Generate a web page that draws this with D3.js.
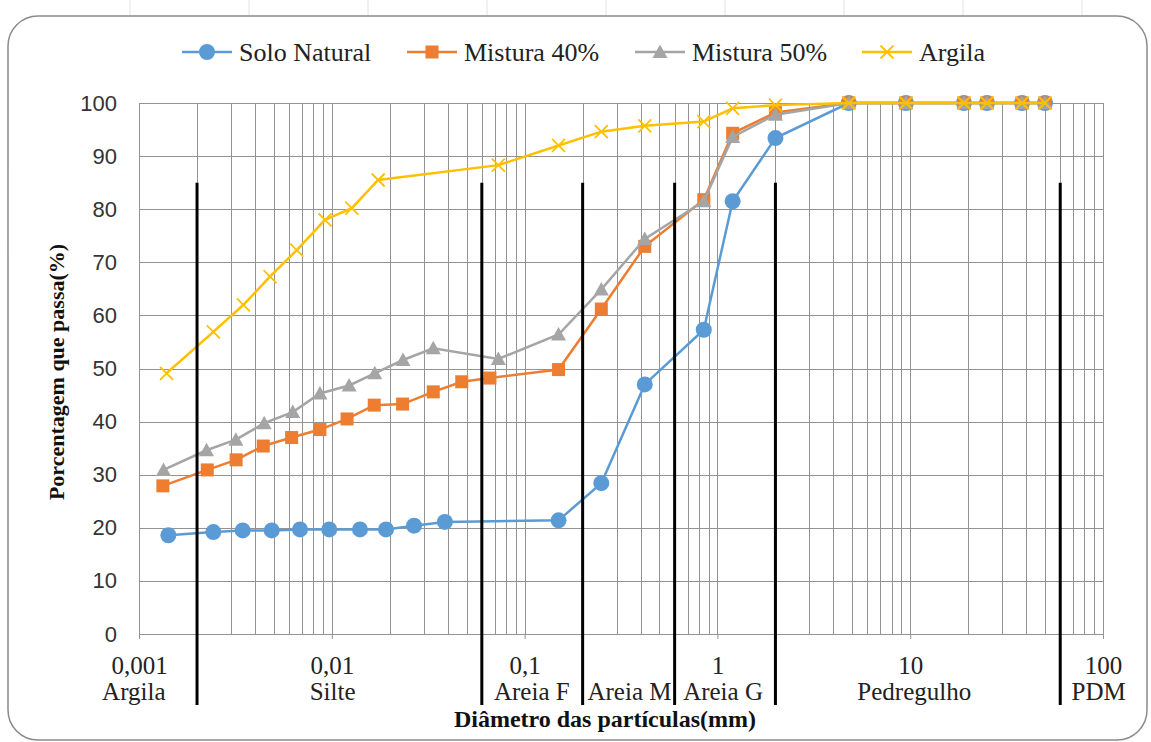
<!DOCTYPE html>
<html><head><meta charset="utf-8">
<script src="https://cdn.jsdelivr.net/npm/d3@7/dist/d3.min.js"></script>
<style>body{margin:0;background:#fff}svg{display:block}</style>
</head><body><svg id="c" width="1151" height="742"></svg>
<script>
// ---- data ----
const seriesNames = ["Solo Natural", "Mistura 40%", "Mistura 50%", "Argila"];
const soloX = [0.00142,0.00243,0.00345,0.00488,0.00684,0.0097,0.0140,0.0191,0.0267,0.0386,0.15,0.25,0.42,0.85,1.2,2.0,4.8,9.5,19,25,38,50];
const soloY = [18.6,19.2,19.5,19.5,19.7,19.7,19.7,19.7,20.4,21.1,21.4,28.4,47.0,57.3,81.5,93.4,100,100,100,100,100,100];
const m40X = [0.00133,0.00226,0.00319,0.00441,0.00619,0.00868,0.0120,0.0166,0.0233,0.0336,0.0472,0.0661,0.15,0.25,0.42,0.85,1.2,2.0,4.8,9.5,19,25,38,50];
const m40Y = [27.9,30.9,32.8,35.4,37.0,38.5,40.5,43.1,43.3,45.6,47.5,48.2,49.8,61.2,73.0,81.8,94.3,98.2,100,100,100,100,100,100];
const m50X = [0.00134,0.00224,0.00318,0.00446,0.00627,0.00868,0.0123,0.0167,0.0234,0.0336,0.0731,0.15,0.25,0.42,0.85,1.2,2.0,4.8,9.5,19,25,38,50];
const m50Y = [30.9,34.6,36.6,39.7,41.8,45.3,46.8,49.1,51.6,53.8,51.8,56.4,64.9,74.4,81.5,93.6,97.8,100,100,100,100,100,100];
const argX = [0.00139,0.00243,0.00348,0.00478,0.00658,0.00922,0.0127,0.0174,0.0731,0.15,0.25,0.42,0.85,1.2,2.0,4.8,9.5,19,25,38,50];
const argY = [49.1,56.9,62.0,67.3,72.3,78.0,80.2,85.5,88.3,92.0,94.6,95.7,96.5,99.0,99.6,100,100,100,100,100,100];
const xTickValues = [0.001,0.01,0.1,1,10,100];
const xTickLabels = ["0,001","0,01","0,1","1","10","100"];
const yTickValues = [0,10,20,30,40,50,60,70,80,90,100];
const zoneBounds = [0.002,0.06,0.2,0.6,2,60];
const zoneTop = 85;
const zoneNames = ["Argila","Silte","Areia F","Areia M","Areia G","Pedregulho","PDM"];
const zoneLabelAt = [0.00094,0.0101,0.109,0.35,1.07,10.5,95];

// ---- layout ----
const svg = d3.select("#c");
const colors = ["#5B9BD5","#ED7D31","#A5A5A5","#FFC000"];
const x = d3.scaleLog().domain([0.001,100]).range([139,1103]);
const y = d3.scaleLinear().domain([0,100]).range([634,103]);
const SERIF = "'Liberation Serif','Times New Roman',serif";
const SANS = "'Liberation Sans',Arial,sans-serif";

// spreadsheet cell lines above the chart
svg.append("g").selectAll("line").data(d3.range(9)).join("line")
  .attr("x1",(d)=>130+d*119).attr("x2",(d)=>130+d*119).attr("y1",0).attr("y2",16)
  .attr("stroke","#e2e2e2").attr("stroke-width",1);
// chart border
svg.append("rect").attr("x",8).attr("y",16).attr("width",1139).attr("height",724)
  .attr("rx",30).attr("fill","#fff").attr("stroke","#8a8a8a").attr("stroke-width",1.5);

// gridlines
const minor = [];
for (let e=-3;e<2;e++) for (let m=1;m<10;m++) minor.push(m*Math.pow(10,e));
minor.push(100);
const grid = svg.append("g");
grid.selectAll(".v").data(minor).join("line")
  .attr("x1",d=>Math.round(x(d))+0.5).attr("x2",d=>Math.round(x(d))+0.5)
  .attr("y1",y(100)).attr("y2",y(0)).attr("stroke","#939393").attr("stroke-width",1);
grid.selectAll(".h").data(yTickValues).join("line")
  .attr("x1",x(0.001)).attr("x2",x(100))
  .attr("y1",d=>Math.round(y(d))+0.5).attr("y2",d=>Math.round(y(d))+0.5)
  .attr("stroke","#939393").attr("stroke-width",1);

// axes
const yAxis = svg.append("g").attr("transform",`translate(117,0)`)
  .call(d3.axisLeft(y).tickValues(yTickValues).tickSize(0).tickPadding(0));
yAxis.select(".domain").remove();
yAxis.selectAll("text").attr("font-family",SANS).attr("font-size",22).attr("fill","#333");

const xAxis = svg.append("g").attr("transform",`translate(0,${y(0)})`)
  .call(d3.axisBottom(x).tickValues(xTickValues).tickFormat((d,i)=>xTickLabels[i]).tickSize(5).tickPadding(17));
xAxis.select(".domain").attr("stroke","#939393");
xAxis.selectAll("line").attr("stroke","#939393");
xAxis.selectAll("text").attr("font-family",SERIF).attr("font-size",25).attr("fill","#222");

// series
const sets = [[soloX,soloY],[m40X,m40Y],[m50X,m50Y],[argX,argY]];
const line = d3.line().x(d=>x(d[0])).y(d=>y(d[1]));
function marker(g,i,cx,cy){
  const c = colors[i];
  if(i===0) g.append("circle").attr("cx",cx).attr("cy",cy).attr("r",8).attr("fill",c);
  else if(i===1) g.append("rect").attr("x",cx-6.5).attr("y",cy-6.5).attr("width",13).attr("height",13).attr("fill",c);
  else if(i===2) g.append("path").attr("d",`M${cx},${cy-7.5}L${cx+7.5},${cy+6}L${cx-7.5},${cy+6}Z`).attr("fill",c);
  else g.append("path").attr("d",`M${cx-6.5},${cy-6.5}L${cx+6.5},${cy+6.5}M${cx-6.5},${cy+6.5}L${cx+6.5},${cy-6.5}`).attr("stroke",c).attr("stroke-width",1.8);
}
sets.forEach(([xs,ys],i)=>{
  const pts = xs.map((v,k)=>[v,ys[k]]);
  const g = svg.append("g");
  g.append("path").datum(pts).attr("d",line).attr("fill","none").attr("stroke",colors[i]).attr("stroke-width",2.5);
  pts.forEach(p=>marker(g,i,x(p[0]),y(p[1])));
});

// zone boundary lines
svg.append("g").selectAll("line").data(zoneBounds).join("line")
  .attr("x1",d=>x(d)).attr("x2",d=>x(d)).attr("y1",y(zoneTop)).attr("y2",705)
  .attr("stroke","#000").attr("stroke-width",3);
// zone labels
svg.append("g").selectAll("text").data(zoneNames).join("text")
  .attr("x",(d,i)=>x(zoneLabelAt[i])).attr("y",700).attr("text-anchor","middle")
  .attr("font-family",SERIF).attr("font-size",25).attr("fill","#222").text(d=>d);

// axis titles
svg.append("text").attr("x",605).attr("y",727).attr("text-anchor","middle")
  .attr("font-family",SERIF).attr("font-weight","bold").attr("font-size",24).attr("fill","#111")
  .text("Diâmetro das partículas(mm)");
svg.append("text").attr("transform","translate(64,372) rotate(-90)").attr("text-anchor","middle")
  .attr("font-family",SERIF).attr("font-weight","bold").attr("font-size",22).attr("fill","#111")
  .text("Porcentagem que passa(%)");

// legend
const legX = [207,432,660,887];
const leg = svg.append("g");
seriesNames.forEach((n,i)=>{
  const cx = legX[i], cy = 52;
  leg.append("line").attr("x1",cx-25).attr("x2",cx+25).attr("y1",cy).attr("y2",cy).attr("stroke",colors[i]).attr("stroke-width",2.5);
  marker(leg,i,cx,cy);
  leg.append("text").attr("x",cx+32).attr("y",cy+9).attr("font-family",SERIF)
    .attr("font-size",26).attr("fill","#222").text(n);
});
</script></body></html>
